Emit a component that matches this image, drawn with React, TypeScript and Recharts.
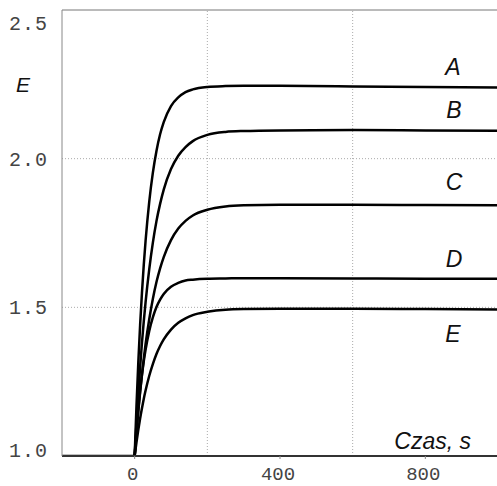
import { LineChart, Line, XAxis, YAxis, ReferenceLine } from 'recharts'

// czas, s
const TIME = [-200, 0, 5, 10, 15, 20, 25, 30, 40, 50, 60, 70, 80, 100, 120, 140, 160, 200, 250, 300, 400, 600, 800, 1000]

// flat part before the step
const BASE = [1.0, 1.0, null, null, null, null, null, null, null, null, null, null, null, null, null, null, null, null, null, null, null, null, null, null]

const A = [null, 1.0, 1.168, 1.314, 1.44, 1.548, 1.642, 1.723, 1.854, 1.952, 2.026, 2.082, 2.123, 2.177, 2.206, 2.224, 2.233, 2.241, 2.244, 2.245, 2.245, 2.243, 2.241, 2.239]
const B = [null, 1.0, 1.111, 1.21, 1.299, 1.38, 1.452, 1.517, 1.627, 1.717, 1.79, 1.848, 1.896, 1.965, 2.01, 2.039, 2.059, 2.08, 2.09, 2.093, 2.095, 2.096, 2.095, 2.094]
const C = [null, 1.0, 1.079, 1.15, 1.215, 1.274, 1.327, 1.376, 1.459, 1.528, 1.585, 1.631, 1.669, 1.726, 1.765, 1.791, 1.809, 1.828, 1.839, 1.843, 1.845, 1.845, 1.844, 1.843]
const D = [null, 1.0, 1.084, 1.156, 1.218, 1.271, 1.318, 1.357, 1.42, 1.466, 1.501, 1.526, 1.545, 1.569, 1.582, 1.59, 1.593, 1.596, 1.597, 1.598, 1.598, 1.597, 1.596, 1.596]
const E = [null, 1.0, 1.046, 1.088, 1.126, 1.16, 1.192, 1.22, 1.269, 1.309, 1.343, 1.37, 1.392, 1.425, 1.448, 1.463, 1.474, 1.485, 1.492, 1.494, 1.495, 1.495, 1.494, 1.493]

const X_TICKS = [0, 400, 800]
const Y_TICKS = [1.0, 1.5, 2.0, 2.5]
const GRID_X = [200, 600]
const GRID_Y = [1.5, 2.0]

const SERIES = [
  { key: 'A', values: A },
  { key: 'B', values: B },
  { key: 'C', values: C },
  { key: 'D', values: D },
  { key: 'E', values: E },
]

const data = TIME.map((t, i) => {
  const row: { [k: string]: number | null } = { t, base: BASE[i] }
  SERIES.forEach((s) => (row[s.key] = s.values[i]))
  return row
})

const MONO = '"Liberation Mono", "DejaVu Sans Mono", monospace'
const SANS = '"Liberation Sans", Arial, sans-serif'

function YTick({ x, y, payload }: any) {
  // the end labels are pulled inside the frame
  const v = payload.value
  const shift = v === 2.5 ? 13 : v === 1.0 ? -6 : 0
  return (
    <text x={x} y={y + shift} dy={7} textAnchor="end" fontFamily={MONO} fontSize={20} fill="#444" letterSpacing={1}>
      {v.toFixed(1)}
    </text>
  )
}

function XTick({ x, y, payload }: any) {
  return (
    <text x={x - 2} y={y} dy={19} textAnchor="middle" fontFamily={MONO} fontSize={19} fill="#444">
      {payload.value}
    </text>
  )
}

const labelStyle = { fontFamily: SANS, fontStyle: 'italic' as const, fontSize: 23, fill: '#111' }

export default function App() {
  return (
    <div style={{ position: 'absolute', left: 0, top: 0, background: '#fff' }}>
      <LineChart width={498} height={486} data={data} margin={{ top: 10, right: 0, bottom: 0, left: 0 }}>
        <XAxis
          dataKey="t"
          type="number"
          domain={[-200, 1000]}
          ticks={X_TICKS}
          allowDataOverflow
          axisLine={{ stroke: '#333', strokeWidth: 2 }}
          tickLine={{ stroke: '#888' }}
          tickSize={3}
          tick={<XTick />}
          height={30}
        />
        <YAxis
          type="number"
          domain={[1, 2.5]}
          ticks={Y_TICKS}
          allowDataOverflow
          width={62}
          axisLine={{ stroke: '#888' }}
          tickLine={false}
          tickMargin={8}
          tick={<YTick />}
        />
        {GRID_X.map((g) => (
          <ReferenceLine key={'x' + g} x={g} stroke="#aaa" strokeDasharray="1 2" />
        ))}
        {GRID_Y.map((g) => (
          <ReferenceLine key={'y' + g} y={g} stroke="#aaa" strokeDasharray="1 2" />
        ))}
        <ReferenceLine y={2.5} stroke="#777" />
        <Line dataKey="base" type="linear" stroke="#000" strokeWidth={2.5} dot={false} isAnimationActive={false} />
        {SERIES.map((s) => (
          <Line
            key={s.key}
            dataKey={s.key}
            type="monotone"
            stroke="#000"
            strokeWidth={2.5}
            dot={false}
            isAnimationActive={false}
          />
        ))}
        <text x={16} y={92} {...labelStyle} fontSize={21}>E</text>
        <text x={453} y={75} textAnchor="middle" {...labelStyle}>A</text>
        <text x={454} y={118} textAnchor="middle" {...labelStyle}>B</text>
        <text x={454} y={190} textAnchor="middle" {...labelStyle}>C</text>
        <text x={454} y={267} textAnchor="middle" {...labelStyle}>D</text>
        <text x={453} y={342} textAnchor="middle" {...labelStyle}>E</text>
        <text x={471} y={449} textAnchor="end" {...labelStyle}>Czas, s</text>
      </LineChart>
    </div>
  )
}
